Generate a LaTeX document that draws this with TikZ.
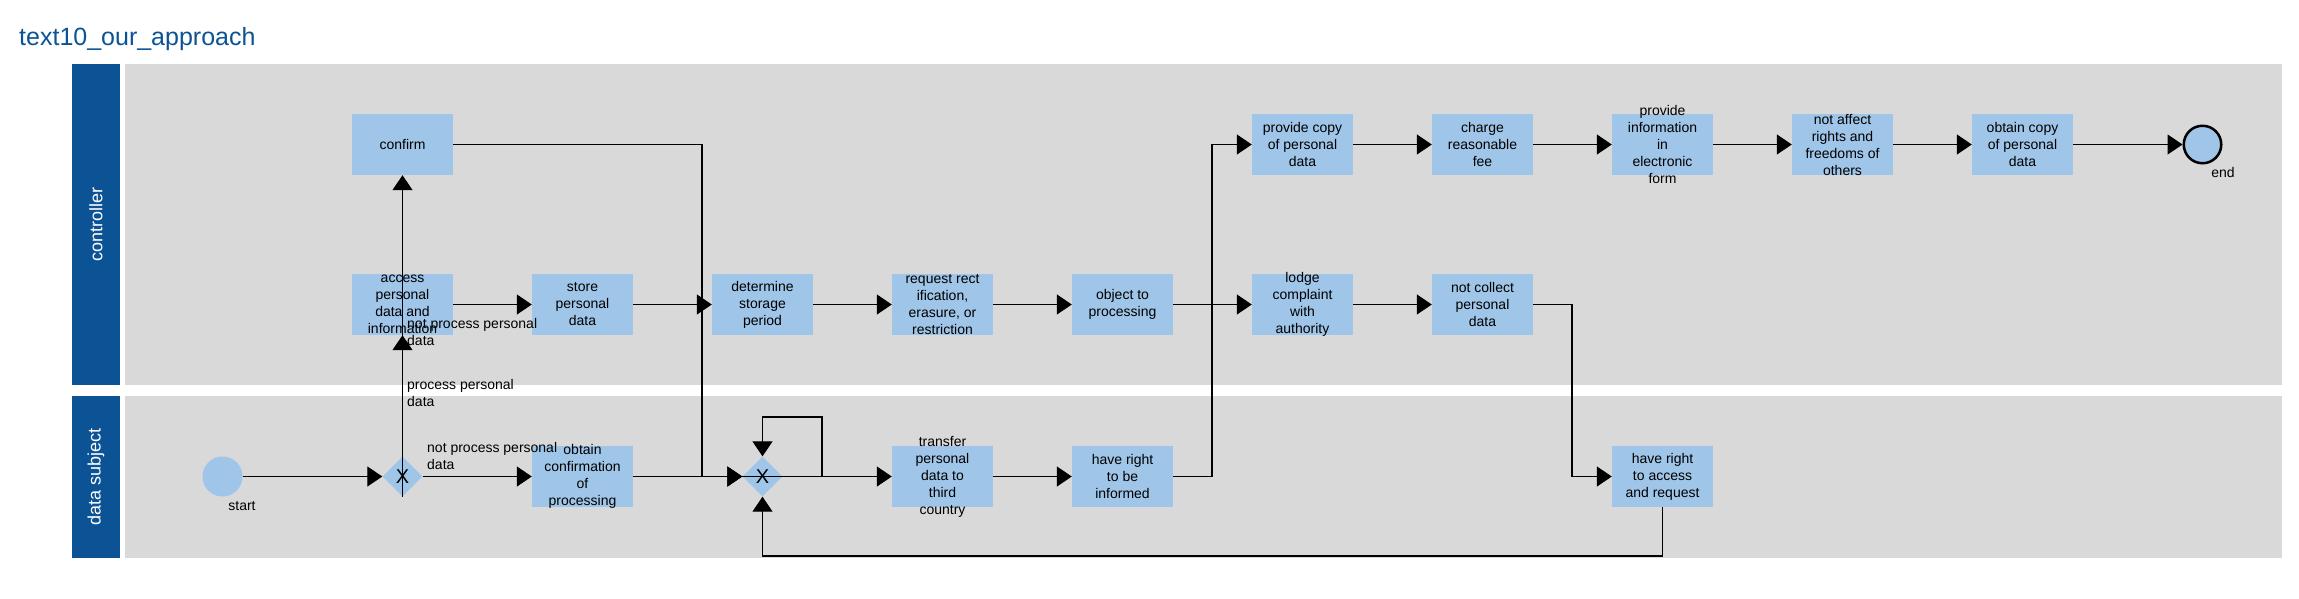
\documentclass[tikz,border=0pt]{standalone}
\usepackage{fontspec}
\setmainfont{Liberation Sans}
\usetikzlibrary{arrows.meta,shapes.geometric}

\definecolor{laneblue}{HTML}{0B5394}
\definecolor{lanegray}{HTML}{D9D9D9}
\definecolor{taskblue}{HTML}{9FC5E8}

\begin{document}
\begin{tikzpicture}[x=1pt,y=-1pt,
    task/.style={rectangle, fill=taskblue, minimum width=101pt, minimum height=61pt, inner xsep=0pt, inner ysep=-15pt, align=center, font=\fontsize{14}{17}\selectfont},
    gate/.style={diamond, fill=taskblue, minimum width=40pt, minimum height=40pt, inner sep=0pt, font=\fontsize{20}{20}\selectfont},
    flow/.style={draw, line width=1.2pt, -{Triangle[length=15pt,width=20pt]}},
    lbl/.style={inner sep=0pt, align=left, font=\fontsize{14}{17}\selectfont}]
    \useasboundingbox (0,0) rectangle (2299,598);

    %title and lanes
        \node[anchor=base west, inner sep=0pt, text=laneblue, font=\fontsize{25}{25}\selectfont] (title) at (19,45) {text10\_our\_approach};
        \fill[laneblue] (72,64) rectangle (120,385);
        \fill[lanegray] (125,64) rectangle (2282,385);
        \fill[laneblue] (72,396) rectangle (120,558);
        \fill[lanegray] (125,396) rectangle (2282,558);
        \node[rotate=90, text=white, font=\fontsize{18}{18}\selectfont] (ctrl) at (96,224.5) {controller};
        \node[rotate=90, text=white, font=\fontsize{18}{18}\selectfont] (subj) at (96,477) {data subject};

    %controller lane
        \node[task] (confirm) at (402.5,144.5) {confirm};
        \node[task] (access) at (402.5,304.5) {access\\personal\\data and\\information};
        \node[task] (store) at (582.5,304.5) {store\\personal\\data};
        \node[task] (determine) at (762.5,304.5) {determine\\storage\\period};
        \node[task] (request) at (942.5,304.5) {request rect\\ification,\\erasure, or\\restriction};
        \node[task] (object) at (1122.5,304.5) {object to\\processing};
        \node[task] (lodge) at (1302.5,304.5) {lodge\\complaint\\with\\authority};
        \node[task] (collect) at (1482.5,304.5) {not collect\\personal\\data};
        \node[task] (copy) at (1302.5,144.5) {provide copy\\of personal\\data};
        \node[task] (charge) at (1482.5,144.5) {charge\\reasonable\\fee};
        \node[task] (provide) at (1662.5,144.5) {provide\\information\\in\\electronic\\form};
        \node[task] (affect) at (1842.5,144.5) {not affect\\rights and\\freedoms of\\others};
        \node[task] (obtaincopy) at (2022.5,144.5) {obtain copy\\of personal\\data};
        \node[circle, fill=taskblue, draw=black, line width=2.5pt, minimum size=37.5pt, inner sep=0pt] (stopev) at (2202.5,144.5) {};
        \node[lbl] (stoplbl) at (2223,172) {end};

    %data subject lane
        \node[circle, fill=taskblue, minimum size=40pt, inner sep=0pt] (startev) at (222.5,476.5) {};
        \node[lbl] (startlbl) at (242,506) {start};
        \node[gate] (g1) at (402.5,476.5) {X};
        \node[task] (obtain) at (582.5,476.5) {obtain\\confirmation\\of\\processing};
        \node[gate] (g2) at (762.5,476.5) {X};
        \node[task] (transfer) at (942.5,476.5) {transfer\\personal\\data to\\third\\country};
        \node[task] (informed) at (1122.5,476.5) {have right\\to be\\informed};
        \node[task] (rightaccess) at (1662.5,476.5) {have right\\to access\\and request};

    %bend points
        \coordinate (jc) at (702,476.5);
        \coordinate (loop) at (822,417);
        \coordinate (ji) at (1212,476.5);
        \coordinate (ja) at (1572,304.5);
        \coordinate (jb) at (1662.5,556);

    %flows
        \draw[flow] (startev.east) -- (g1.west);
        \draw[flow] (g1.south) -- (access.south);
        \draw[flow] (g1.south) -- (confirm.south);
        \draw[flow] (g1.east) -- (obtain.west);
        \draw[flow] (access.east) -- (store.west);
        \draw[flow] (store.east) -- (determine.west);
        \draw[flow] (confirm.east) -| (jc) -- (g2.west);
        \draw[flow] (obtain.east) -- (g2.west);
        \draw[flow] (g2.west) -| (loop) -| (g2.north);
        \draw[flow] (g2.west) -- (transfer.west);
        \draw[flow] (determine.east) -- (request.west);
        \draw[flow] (request.east) -- (object.west);
        \draw[flow] (object.east) -- (lodge.west);
        \draw[flow] (transfer.east) -- (informed.west);
        \draw[flow] (informed.east) -- (ji) |- (copy.west);
        \draw[flow] (copy.east) -- (charge.west);
        \draw[flow] (charge.east) -- (provide.west);
        \draw[flow] (provide.east) -- (affect.west);
        \draw[flow] (affect.east) -- (obtaincopy.west);
        \draw[flow] (obtaincopy.east) -- (stopev.west);
        \draw[flow] (lodge.east) -- (collect.west);
        \draw[flow] (collect.east) -- (ja) |- (rightaccess.west);
        \draw[flow] (rightaccess.south) -- (jb) -| (g2.south);

    %flow labels
        \node[lbl, anchor=north west] (lbl1) at (407,379) {process personal\\data};
        \node[lbl, anchor=north west] (lbl2) at (407,318) {not process personal\\data};
        \node[lbl, anchor=north west] (lbl3) at (427,442) {not process personal\\data};

\end{tikzpicture}
\end{document}
